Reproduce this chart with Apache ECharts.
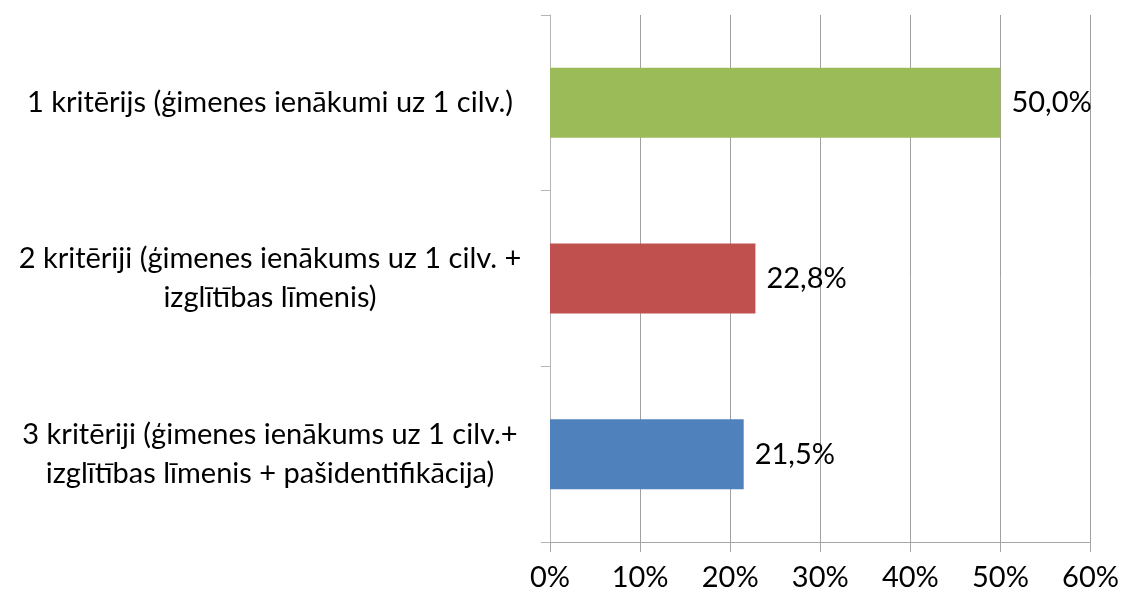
<!DOCTYPE html>
<html>
<head>
<meta charset="utf-8">
<script src="https://cdn.jsdelivr.net/npm/echarts@6/dist/echarts.min.js"></script>
<style>
  html, body { margin: 0; padding: 0; background: #fff; }
  #chart { width: 1122px; height: 603px; }
</style>
</head>
<body>
<div id="chart"></div>
<script>
  // kategorijas un vērtības (%)
  const categories = [
    '1 kritērijs (ģimenes ienākumi uz 1 cilv.)',
    '2 kritēriji (ģimenes ienākums uz 1 cilv. +\nizglītības līmenis)',
    '3 kritēriji (ģimenes ienākums uz 1 cilv.+\nizglītības līmenis + pašidentifikācija)'
  ]
  const values = [50.0, 22.8, 21.5]
  const colors = ['#9BBB59', '#C0504D', '#4F81BD']

  const font = 'Lato, "Open Sans", sans-serif'

  let chart = echarts.init(document.getElementById('chart'))
  chart.setOption({
    animation: false,
    grid: { left: 550, right: 30, top: 15, bottom: 61 },
    xAxis: {
      type: 'value',
      min: 0,
      max: 60,
      interval: 10,
      axisLine: { show: true, lineStyle: { color: '#a6a6a6' } },
      axisTick: { show: true, length: 10, lineStyle: { color: '#a6a6a6' } },
      splitLine: { show: true, lineStyle: { color: '#a0a0a0' } },
      axisLabel: {
        margin: 21,
        color: '#000',
        fontSize: 29,
        fontFamily: font,
        formatter: function (v) { return v + '%' }
      }
    },
    yAxis: {
      type: 'category',
      inverse: true,
      data: categories,
      axisLine: { show: true, lineStyle: { color: '#b5b5b5' } },
      axisTick: { show: true, length: 9, lineStyle: { color: '#b5b5b5' } },
      axisLabel: {
        margin: 280,
        align: 'center',
        color: '#000',
        fontSize: 29,
        lineHeight: 39,
        fontFamily: font
      }
    },
    series: [{
      type: 'bar',
      barWidth: 70,
      data: values.map(function (v, i) {
        return { value: v, itemStyle: { color: colors[i] } }
      }),
      label: {
        show: true,
        position: 'right',
        distance: 11,
        color: '#000',
        fontSize: 29,
        fontFamily: font,
        formatter: function (p) { return p.value.toFixed(1).replace('.', ',') + '%' }
      }
    }]
  })
</script>
</body>
</html>
